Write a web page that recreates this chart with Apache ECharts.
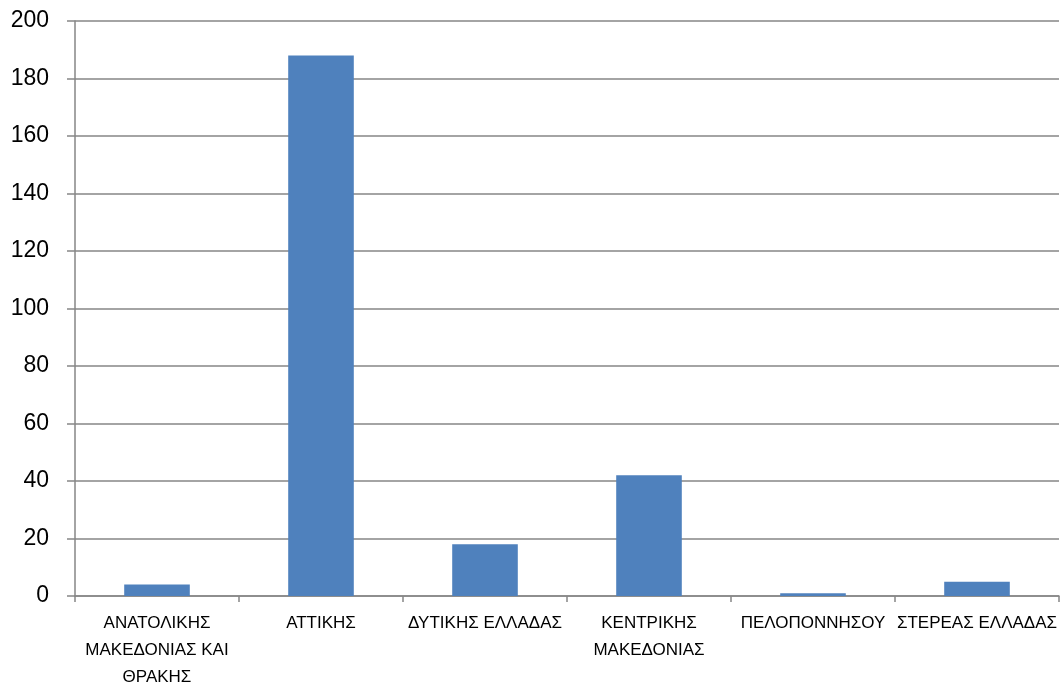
<!DOCTYPE html>
<html>
<head>
<meta charset="utf-8">
<script src="https://cdn.jsdelivr.net/npm/echarts@6/dist/echarts.min.js"></script>
<style>
  html, body { margin: 0; padding: 0; background: #fff; }
  #chart { width: 1062px; height: 684px; }
</style>
</head>
<body>
<div id="chart"></div>
<script>
const regions = ['ΑΝΑΤΟΛΙΚΗΣ ΜΑΚΕΔΟΝΙΑΣ ΚΑΙ ΘΡΑΚΗΣ', 'ΑΤΤΙΚΗΣ', 'ΔΥΤΙΚΗΣ ΕΛΛΑΔΑΣ', 'ΚΕΝΤΡΙΚΗΣ ΜΑΚΕΔΟΝΙΑΣ', 'ΠΕΛΟΠΟΝΝΗΣΟΥ', 'ΣΤΕΡΕΑΣ ΕΛΛΑΔΑΣ']
const counts = [4, 188, 18, 42, 1, 5]

let myChart = echarts.init(document.getElementById('chart'))
const gray = '#868686'

// greedy word wrap, at most 15 characters a line
function wrap (name) {
  let lines = []
  let cur = ''
  name.split(' ').forEach(function (w) {
    if (cur && (cur + ' ' + w).length > 15) {
      lines.push(cur)
      cur = w
    } else {
      cur = cur ? cur + ' ' + w : w
    }
  })
  lines.push(cur)
  return lines.join('\n')
}

let option = {
  animation: false,
  grid: { left: 75, right: 3, top: 21, bottom: 88, outerBoundsMode: 'none', containLabel: false },
  xAxis: {
    type: 'category',
    data: regions,
    axisLine: { lineStyle: { color: gray, width: 1.5 } },
    axisTick: { show: true, length: 6, lineStyle: { color: gray, width: 1.5 } },
    axisLabel: {
      interval: 0,
      hideOverlap: false,
      margin: 14,
      lineHeight: 27,
      fontSize: 17,
      fontFamily: 'Liberation Sans',
      color: '#000',
      formatter: wrap
    }
  },
  yAxis: {
    type: 'value',
    min: 0,
    max: 200,
    interval: 20,
    axisLine: { show: true, lineStyle: { color: gray, width: 1.5 } },
    axisTick: { show: true, length: 8, lineStyle: { color: gray, width: 1.5 } },
    splitLine: { lineStyle: { color: gray, width: 1.5 } },
    axisLabel: {
      margin: 26,
      fontSize: 23,
      fontFamily: 'Liberation Sans',
      color: '#000'
    }
  },
  series: [{
    type: 'bar',
    data: counts,
    barWidth: '40%',
    itemStyle: { color: '#4F81BD' }
  }]
}
myChart.setOption(option)
window.addEventListener('resize', function () {
  myChart.resize()
})
</script>
</body>
</html>
